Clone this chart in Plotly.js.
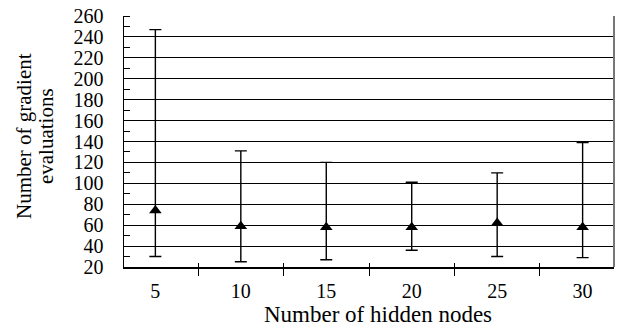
<!DOCTYPE html>
<html>
<head>
<meta charset="utf-8">
<script src="https://cdn.plot.ly/plotly-3.0.1.min.js"></script>
<style>html,body{margin:0;padding:0;background:#fff;}#chart{width:618px;height:329px;}</style>
</head>
<body>
<div id="chart"></div>
<script>
var hiddenNodes = ['5', '10', '15', '20', '25', '30'];
var meanEvals = [74, 59, 58, 58, 62, 58];
var minEvals = [30, 25, 27, 36, 30, 29];
var maxEvals = [247, 131, 120, 101, 110, 139];
var yTickVals = [20, 40, 60, 80, 100, 120, 140, 160, 180, 200, 220, 240, 260];

var plusErr = maxEvals.map(function (v, i) { return v - meanEvals[i]; });
var minusErr = meanEvals.map(function (v, i) { return v - minEvals[i]; });

var FONT = 'Liberation Serif';

var traces = [
  {
    type: 'scatter', mode: 'markers',
    x: hiddenNodes, y: meanEvals,
    marker: {symbol: 'triangle-up', size: 11, color: '#000'},
    error_y: {type: 'data', symmetric: false, array: plusErr, arrayminus: minusErr,
              color: '#000', thickness: 1.4, width: 6},
    hoverinfo: 'x+y', showlegend: false
  },
  {
    type: 'scatter', mode: 'markers',
    x: hiddenNodes, y: meanEvals, xaxis: 'x2',
    marker: {opacity: 0}, hoverinfo: 'skip', showlegend: false
  }
];

var layout = {
  width: 618, height: 329,
  margin: {l: 124, r: 4, t: 16, b: 62, pad: 0},
  paper_bgcolor: '#fff', plot_bgcolor: '#fff',
  font: {family: FONT, size: 20, color: '#000'},
  showlegend: false,
  xaxis: {
    type: 'category', tickson: 'boundaries',
    ticks: 'outside', ticklen: 7, tickwidth: 1, tickcolor: '#000',
    showline: true, linecolor: '#000', linewidth: 1.5,
    showgrid: false, zeroline: false,
    tickfont: {family: FONT, size: 20, color: '#000'},
    ticklabelstandoff: 5
  },
  xaxis2: {
    type: 'category', overlaying: 'x', matches: 'x', anchor: 'y',
    tickson: 'boundaries', ticks: 'inside', ticklen: 4, tickwidth: 1, tickcolor: '#000',
    showticklabels: false, showline: false, showgrid: false, zeroline: false
  },
  yaxis: {
    range: [20, 260], tickvals: yTickVals,
    ticks: '', showline: true, linecolor: '#000', linewidth: 1.5,
    showgrid: true, gridcolor: '#000', gridwidth: 1, zeroline: false,
    minor: {dtick: 10, tick0: 10, ticks: 'inside', ticklen: 6, tickcolor: '#000', tickwidth: 1, showgrid: false},
    tickfont: {family: FONT, size: 20, color: '#000'},
    ticklabelstandoff: 15
  },
  shapes: [
    {type: 'line', xref: 'paper', yref: 'paper', x0: 1, x1: 1, y0: 0, y1: 1,
     line: {color: '#777', width: 2}}
  ],
  annotations: [
    {text: 'Number of gradient', xref: 'paper', yref: 'paper', x: -0.204, y: 0.522,
     xanchor: 'center', yanchor: 'middle', textangle: -90, showarrow: false,
     font: {family: FONT, size: 21, color: '#000'}},
    {text: 'evaluations', xref: 'paper', yref: 'paper', x: -0.159, y: 0.522,
     xanchor: 'center', yanchor: 'middle', textangle: -90, showarrow: false,
     font: {family: FONT, size: 21, color: '#000'}},
    {text: 'Number of hidden nodes', xref: 'paper', yref: 'paper', x: 0.518, y: -0.191,
     xanchor: 'center', yanchor: 'middle', showarrow: false,
     font: {family: FONT, size: 23, color: '#000'}}
  ]
};

Plotly.newPlot('chart', traces, layout, {displayModeBar: false, staticPlot: true});
</script>
</body>
</html>
